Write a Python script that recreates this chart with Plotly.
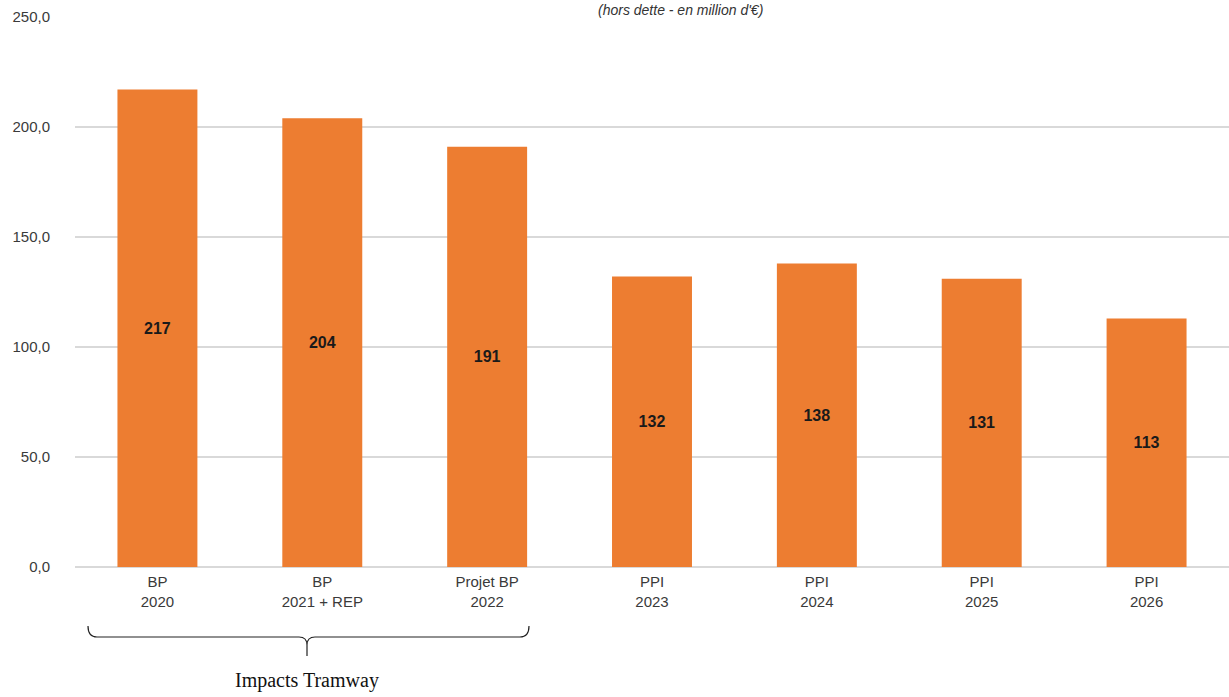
import plotly.graph_objects as go

# Investment spending, excluding debt (million €)
categories = ["BP<br>2020", "BP<br>2021 + REP", "Projet BP<br>2022",
              "PPI<br>2023", "PPI<br>2024", "PPI<br>2025", "PPI<br>2026"]
values = [217, 204, 191, 132, 138, 131, 113]
y_ticks = [0, 50, 100, 150, 200, 250]
y_tick_labels = ["0,0", "50,0", "100,0", "150,0", "200,0", "250,0"]

W, H = 1229, 697
M_L, M_R, M_T, M_B = 75, 0, 17, 130
PW, PH = W - M_L - M_R, H - M_T - M_B


def px(x):
    return (x - M_L) / PW


def py(y):
    return (H - M_B - y) / PH


fig = go.Figure(go.Bar(
    x=categories, y=values,
    marker=dict(color="#ED7D31", line=dict(width=0)),
    text=[str(v) for v in values],
    textposition="inside", insidetextanchor="middle",
    textfont=dict(family="Liberation Sans, Arial", size=16, color="#1a1a1a", weight="bold"),
    width=0.485,
))

# bracket grouping the first three budgets
bracket = (
    f"M {px(88)},{py(626)} Q {px(88)},{py(637)} {px(97)},{py(637)} "
    f"L {px(299)},{py(637)} Q {px(307)},{py(637)} {px(307)},{py(645)} "
    f"L {px(307)},{py(656)} M {px(307)},{py(645)} "
    f"Q {px(307)},{py(637)} {px(315)},{py(637)} "
    f"L {px(520)},{py(637)} Q {px(529)},{py(637)} {px(529)},{py(626)}"
)

fig.update_layout(
    width=W, height=H,
    margin=dict(l=M_L, r=M_R, t=M_T, b=M_B),
    paper_bgcolor="white", plot_bgcolor="white",
    showlegend=False,
    font=dict(family="Liberation Sans, Arial", size=15, color="#3a3a3a"),
    xaxis=dict(showgrid=False, showline=False, ticks="", ticklabelstandoff=4,
               tickfont=dict(size=15, color="#3a3a3a")),
    yaxis=dict(range=[0, 250], tickvals=y_ticks, ticktext=y_tick_labels,
               showgrid=True, gridcolor="#d9d9d9", gridwidth=1.5,
               zeroline=True, zerolinecolor="#d9d9d9", zerolinewidth=1.5,
               showline=False, ticks="", ticklabelstandoff=24,
               tickfont=dict(size=15, color="#3a3a3a")),
    shapes=[dict(type="path", path=bracket, xref="paper", yref="paper",
                 line=dict(color="#222", width=1.2))],
    annotations=[
        dict(text="(hors dette - en million d'€)", xref="paper", yref="paper",
             x=px(680), y=py(10), xanchor="center", yanchor="middle",
             showarrow=False, font=dict(size=14, color="#333", style="italic")),
        dict(text="Impacts Tramway", xref="paper", yref="paper",
             x=px(307), y=py(680), xanchor="center", yanchor="middle",
             showarrow=False, font=dict(family="Liberation Serif, Times New Roman", size=20, color="#111")),
    ],
)

fig.write_html("out.html")
